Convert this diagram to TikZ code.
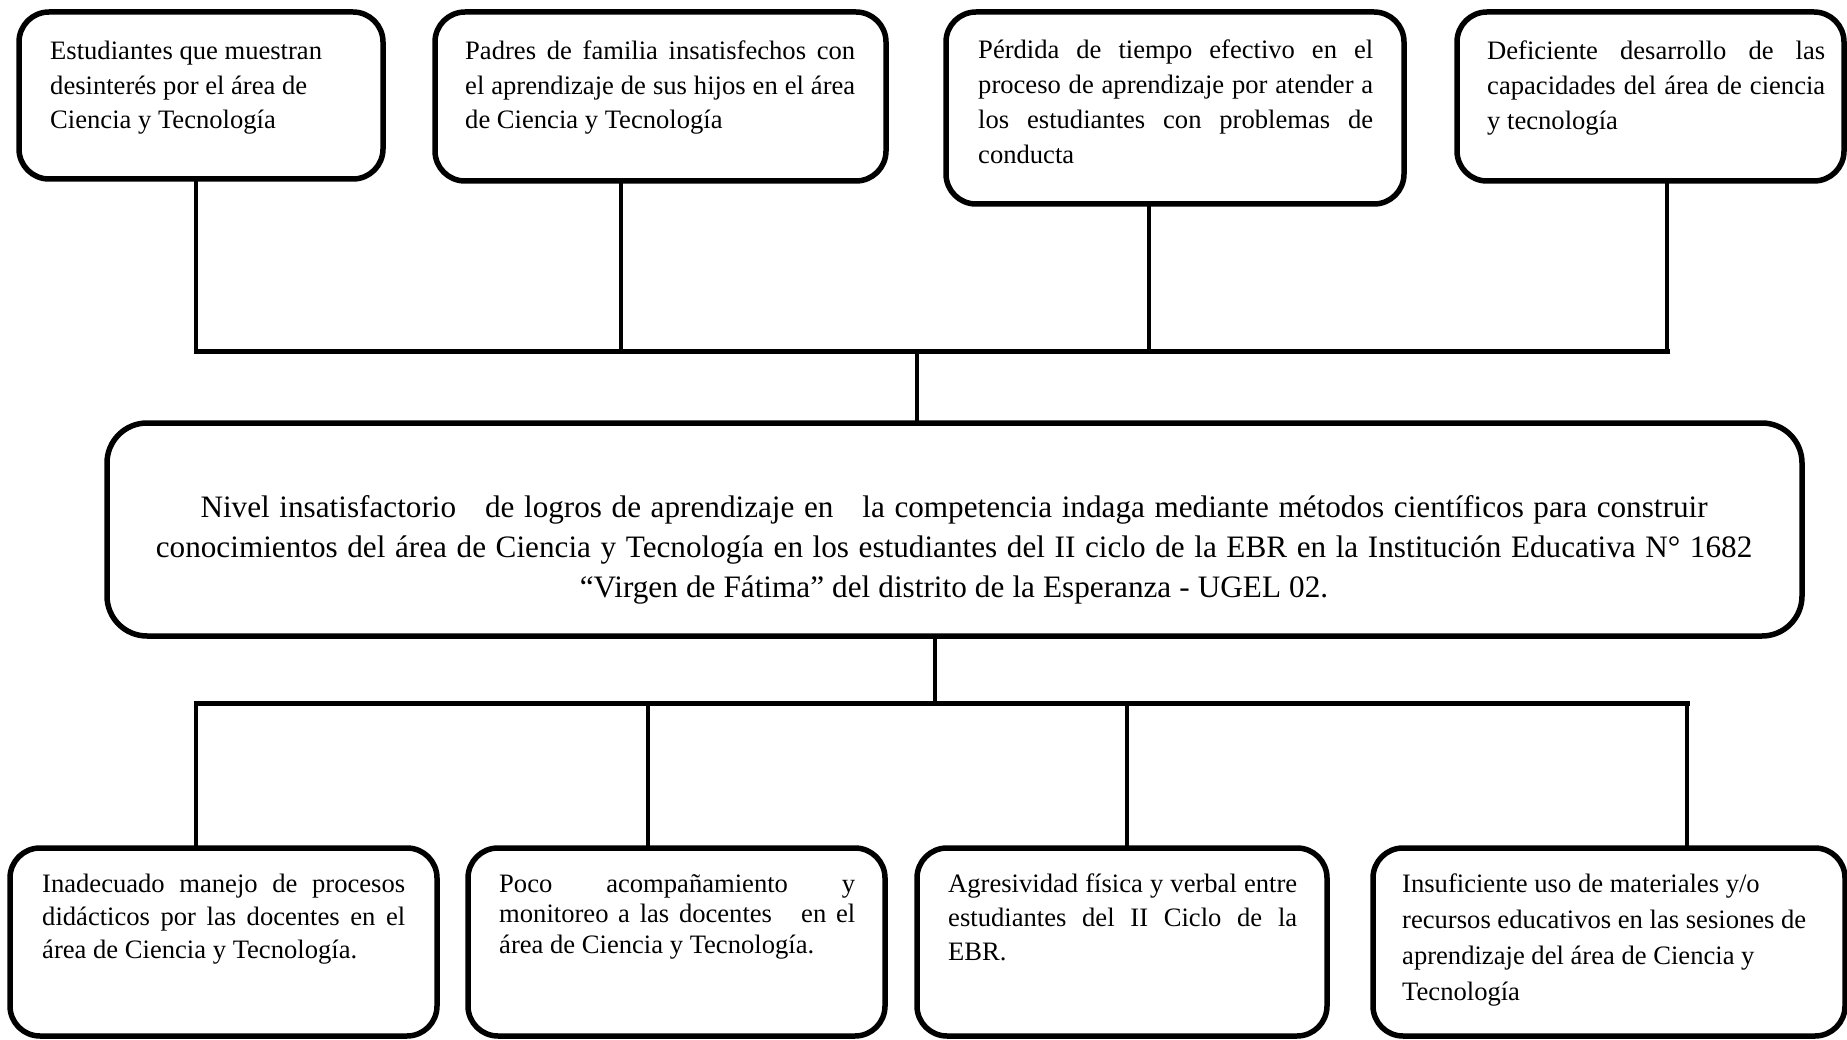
\documentclass[tikz,border=0pt]{standalone}
\usepackage{fontspec}
\setmainfont{Liberation Serif}
\newcommand{\jline}[2]{\makebox[#1][s]{\spaceskip=0pt\xspaceskip=0pt #2}}
\newcommand{\setsp}[1]{\spaceskip=\dimexpr\fontdimen2\font+#1\relax\xspaceskip=\spaceskip}
\begin{document}
\begin{tikzpicture}[x=1pt,y=-1pt,
  box/.style={draw=black, line width=5.5pt, rounded corners=30pt, anchor=north west,
    inner sep=0pt, outer sep=0pt, fill=white},
  bigbox/.style={box, rounded corners=40pt},
  txt/.style={anchor=base west, inner sep=0pt, align=left,
    font=\fontsize{26.6}{34.75}\selectfont,
    execute at begin node={\spaceskip=0pt\xspaceskip=0pt}},
  bigtxt/.style={anchor=base, inner sep=0pt, align=center,
    font=\fontsize{31.2}{40}\selectfont,
    execute at begin node={\setsp{1.8pt}}},
  vconn/.style={draw=black, line width=4pt},
  hconn/.style={draw=black, line width=5pt, line cap=rect}]
\useasboundingbox (0,0) rectangle (1847,1040);

% boxes
\node[box, minimum width=364pt, minimum height=167pt] (t1) at (19,12) {};
\node[box, minimum width=451pt, minimum height=169pt] (t2) at (435,12) {};
\node[box, minimum width=458pt, minimum height=192pt] (t3) at (946,12) {};
\node[box, minimum width=387pt, minimum height=169pt] (t4) at (1457,12) {};
\node[bigbox, minimum width=1695pt, minimum height=213pt] (c) at (107,423) {};
\node[box, minimum width=427pt, minimum height=188pt] (b1) at (10,848) {};
\node[box, minimum width=417pt, minimum height=188pt] (b2) at (468,848) {};
\node[box, minimum width=410pt, minimum height=188pt] (b3) at (917,848) {};
\node[box, minimum width=472pt, minimum height=188pt] (b4) at (1373,848) {};

% texts
\node[txt, text width=330pt] (t1x) at (50,59.5)
  {Estudiantes que muestran\\desinterés por el área de\\Ciencia y Tecnología};
\node[txt, text width=390pt] (t2x) at (465,59.5)
  {\jline{390pt}{Padres de familia insatisfechos con}\\\jline{390pt}{el aprendizaje de sus hijos en el área}\\de Ciencia y Tecnología};
\node[txt, text width=395pt, font=\fontsize{26.6}{35}\selectfont] (t3x) at (978,58.5)
  {\jline{395pt}{Pérdida de tiempo efectivo en el}\\\jline{395pt}{proceso de aprendizaje por atender a}\\\jline{395pt}{los estudiantes con problemas de}\\conducta};
\node[txt, text width=338pt] (t4x) at (1487,60)
  {\jline{338pt}{Deficiente desarrollo de las}\\\jline{338pt}{capacidades del área de ciencia}\\y tecnología};

\node[bigtxt, text width=1690pt] (cx) at (954,517)
  {Nivel insatisfactorio\ \ \ de logros de aprendizaje en\ \ \ la competencia indaga mediante métodos científicos para construir\\conocimientos del área de Ciencia y Tecnología en los estudiantes del II ciclo de la EBR en la Institución Educativa N° 1682\\\setsp{0.3pt}“Virgen de Fátima” del distrito de la Esperanza - UGEL 02.};

\node[txt, text width=363pt, font=\fontsize{26.6}{33}\selectfont] (b1x) at (42,892)
  {\jline{363pt}{Inadecuado manejo de procesos}\\\jline{363pt}{didácticos por las docentes en el}\\área de Ciencia y Tecnología.};
\node[txt, text width=356pt, font=\fontsize{26.6}{30.5}\selectfont] (b2x) at (499,892)
  {\jline{356pt}{Poco acompañamiento y}\\\jline{356pt}{monitoreo a las docentes\ \ \ en el}\\área de Ciencia y Tecnología.};
\node[txt, text width=349pt, font=\fontsize{26.6}{34}\selectfont] (b3x) at (948,892)
  {\jline{349pt}{Agresividad física y verbal entre}\\\jline{349pt}{estudiantes del II Ciclo de la}\\EBR.};
\node[txt, text width=430pt, font=\fontsize{26.6}{36}\selectfont] (b4x) at (1402,892)
  {Insuficiente uso de materiales y/o\\recursos educativos en las sesiones de\\aprendizaje del área de Ciencia y\\Tecnología};

% junction points
\coordinate (j1) at (196,352);
\coordinate (j2) at (621,352);
\coordinate (j3) at (1149,352);
\coordinate (j4) at (1667,352);
\coordinate (jc) at (917,352);
\coordinate (k1) at (196,703);
\coordinate (k2) at (648,703);
\coordinate (k3) at (1127,703);
\coordinate (k4) at (1687,703);
\coordinate (kc) at (935,703);

% connectors top
\draw[vconn] (j1 |- t1.south) -- (j1);
\draw[vconn] (j2 |- t2.south) -- (j2);
\draw[vconn] (j3 |- t3.south) -- (j3);
\draw[vconn] (j4 |- t4.south) -- (j4);
\draw[hconn] (j1) -- (j4);
\draw[vconn] (jc) -- (jc |- c.north);

% connectors bottom
\draw[vconn] (kc |- c.south) -- (kc);
\draw[hconn] (k1) -- (k4);
\draw[vconn] (k1) -- (k1 |- b1.north);
\draw[vconn] (k2) -- (k2 |- b2.north);
\draw[vconn] (k3) -- (k3 |- b3.north);
\draw[vconn] (k4) -- (k4 |- b4.north);
\end{tikzpicture}
\end{document}
